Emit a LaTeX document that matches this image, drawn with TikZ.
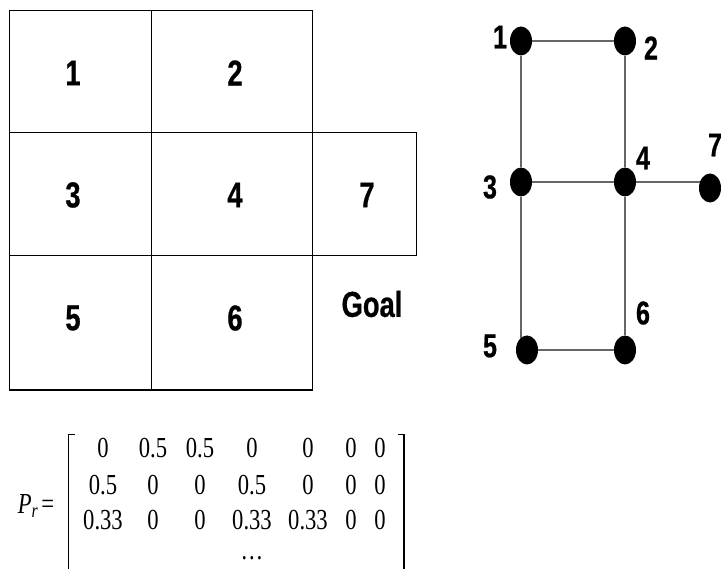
\documentclass[tikz,border=0pt]{standalone}
\usepackage{fontspec}
\setmainfont{Liberation Serif}[FakeStretch=0.78]
\newfontfamily\narrowsans{Liberation Sans}[FakeStretch=0.76,FakeBold=0.6]
\usetikzlibrary{shapes.geometric}
\usetikzlibrary{backgrounds}

\tikzset{
    cellnum/.style={font=\narrowsans\bfseries\fontsize{36}{40}\selectfont},
    vertex/.style={ellipse,fill=black,minimum width=22pt,minimum height=29pt,inner sep=0pt},
    vlabel/.style={font=\narrowsans\bfseries\fontsize{33}{36}\selectfont,inner sep=0pt},
    entry/.style={font=\fontsize{29}{32}\selectfont,inner sep=0pt},
    edge/.style={draw=black!60,line width=1.4pt}
}

\begin{document}
\begin{tikzpicture}[x=1pt,y=-1pt]
    \useasboundingbox (0,0) rectangle (721,569);
    % grid world
    \draw[line width=1.3pt] (9.5,10.7) rectangle (312.7,390);
    \draw[line width=1.3pt] (151.7,10.7) -- (151.7,390);
    \draw[line width=1.3pt] (9.5,132.7) -- (312.7,132.7);
    \draw[line width=1.3pt] (9.5,255.3) -- (312.7,255.3);
    \draw[line width=1.3pt] (312.7,132.7) rectangle (416.7,255.3);
    \foreach \n/\x/\y in {1/73/73, 2/235/73, 3/73/195, 4/235/195, 7/367/195, 5/73/318, 6/235/318}
        \node[cellnum] (c\n) at (\x,\y) {\n};
    \node[cellnum] (goal) at (372,304) {Goal};
    % graph of the states
    \foreach \n/\x/\y in {1/521/41, 2/625/41, 3/521/182, 4/625/182, 7/710/188, 5/527/350, 6/625/350}
        \node[vertex] (v\n) at (\x,\y) {};
    \foreach \n/\x/\y in {1/500/37, 2/651/48, 3/490/187, 4/643/158, 7/715/145, 6/643/313, 5/490/346}
        \node[vlabel] (l\n) at (\x,\y) {\n};
    \begin{scope}[on background layer]
        \draw[edge] (v1) -- (v2);
        \draw[edge] (v1) -- (v3);
        \draw[edge] (v2) -- (v4);
        \draw[edge] (v3) -- (v4);
        \draw[edge] (v4) -- (v4 -| v7);
        \draw[edge] (v3) -- (v3 |- v5);
        \draw[edge] (v4) -- (v6);
        \draw[edge] (v5) -- (v6);
    \end{scope}
    % transition matrix
    \node[entry] (prlabel) at (36,506) {\textit{P}\textsubscript{\textit{r}}\hspace{3pt}=};
    \def\colx{{103,153,200,252,308,351,380}}
    \foreach \r/\y/\vals in {1/448/{0,0.5,0.5,0,0,0,0}, 2/485/{0.5,0,0,0.5,0,0,0}, 3/520/{0.33,0,0,0.33,0.33,0,0}}
        \foreach \v [count=\c] in \vals
            \node[entry] (m\r\c) at ({\colx[\c-1]},\y) {\v};
    \node[entry] (mdots) at (252,558) {\dots};
    \draw[line width=1.8pt] (75,434.5) -- (68.5,434.5) -- (68.5,575);
    \draw[line width=1.8pt] (398,434.5) -- (404,434.5) -- (404,575);
\end{tikzpicture}
\end{document}
